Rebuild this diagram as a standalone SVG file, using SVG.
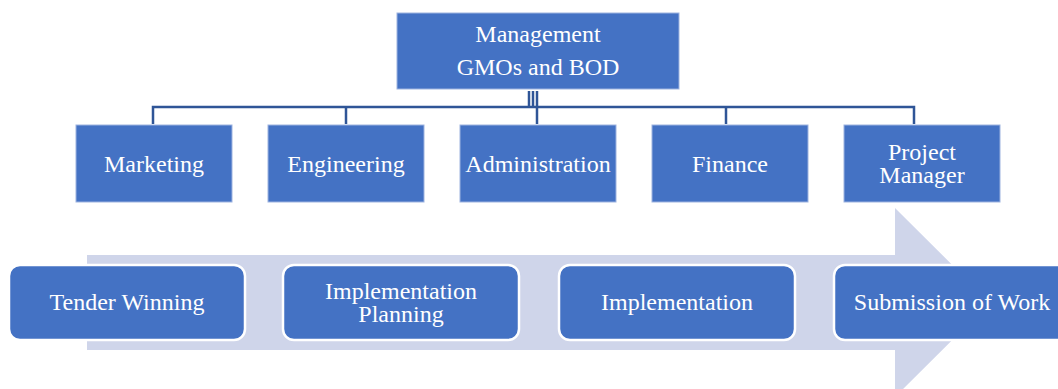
<svg xmlns="http://www.w3.org/2000/svg" width="1058" height="389" viewBox="0 0 1058 389">
  <style>
    .box { fill: #4472C4; stroke: #9DB3E0; stroke-width: 1; }
    .step { fill: #4472C4; stroke: #FFFFFF; stroke-width: 2.5; }
    .lbl { fill: #FFFFFF; font-family: "Liberation Serif", "Times New Roman", serif; font-size: 24px; text-anchor: middle; }
    .wire { fill: none; stroke: #2F5597; stroke-width: 2.5; }
  </style>

  <!-- process arrow behind the stages -->
  <polygon id="process-arrow" points="87,255 895,255 895,208 990,302.5 895,397 895,350 87,350" fill="#CFD5EA"/>

  <!-- org chart connectors -->
  <g id="connectors">
    <path class="wire" d="M153,124 V107 H914 V124"/>
    <path class="wire" d="M346,107 V124"/>
    <path class="wire" d="M726,107 V124"/>
    <path class="wire" d="M537,91 V124"/>
    <path class="wire" d="M529,91 V107"/>
    <path class="wire" d="M533,91 V107"/>
  </g>

  <g id="management">
    <rect class="box" x="397" y="13" width="282" height="76"/>
    <text class="lbl" x="538" y="42">Management</text>
    <text class="lbl" x="538" y="75">GMOs and BOD</text>
  </g>

  <g id="marketing">
    <rect class="box" x="76" y="125" width="156" height="77"/>
    <text class="lbl" x="154" y="172">Marketing</text>
  </g>
  <g id="engineering">
    <rect class="box" x="268" y="125" width="156" height="77"/>
    <text class="lbl" x="346" y="172">Engineering</text>
  </g>
  <g id="administration">
    <rect class="box" x="460" y="125" width="156" height="77"/>
    <text class="lbl" x="538" y="172">Administration</text>
  </g>
  <g id="finance">
    <rect class="box" x="652" y="125" width="156" height="77"/>
    <text class="lbl" x="730" y="172">Finance</text>
  </g>
  <g id="project-manager">
    <rect class="box" x="844" y="125" width="156" height="77"/>
    <text class="lbl" x="922" y="160">Project</text>
    <text class="lbl" x="922" y="183">Manager</text>
  </g>

  <!-- process stages -->
  <g id="tender-winning">
    <rect class="step" x="9" y="265" width="236" height="75" rx="11"/>
    <text class="lbl" x="127" y="310">Tender Winning</text>
  </g>
  <g id="implementation-planning">
    <rect class="step" x="283" y="265" width="236" height="75" rx="11"/>
    <text class="lbl" x="401" y="298.5">Implementation</text>
    <text class="lbl" x="401" y="321.5">Planning</text>
  </g>
  <g id="implementation">
    <rect class="step" x="559" y="265" width="236" height="75" rx="11"/>
    <text class="lbl" x="677" y="310">Implementation</text>
  </g>
  <g id="submission-of-work">
    <rect class="step" x="834" y="265" width="236" height="75" rx="11"/>
    <text class="lbl" x="952" y="310">Submission of Work</text>
  </g>
</svg>
